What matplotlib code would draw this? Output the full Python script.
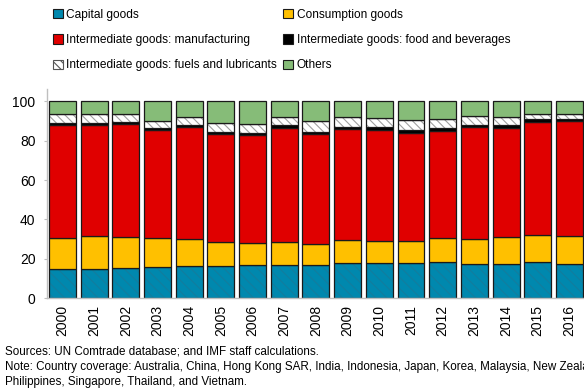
import matplotlib
matplotlib.use("Agg")
import matplotlib.pyplot as plt
import matplotlib.patches as mpatches
import numpy as np

plt.rcParams['font.family'] = ['Liberation Sans', 'DejaVu Sans']
plt.rcParams['hatch.linewidth'] = 0.8

years = [str(y) for y in range(2000, 2017)]

# shares in percent
capital = [14.7, 14.7, 15.3, 15.9, 16.4, 16.3, 16.6, 16.9, 16.6, 17.8, 17.8, 17.8, 18.3, 17.3, 17.3, 18.3, 17.5]
consumption = [15.6, 16.7, 15.5, 14.4, 13.4, 12.0, 11.4, 11.4, 10.7, 11.9, 11.2, 11.2, 12.2, 12.7, 13.5, 13.7, 14.2]
manufacturing = [57.5, 56.4, 57.5, 55.1, 57.0, 54.9, 54.9, 58.1, 55.9, 56.1, 56.3, 54.7, 54.2, 56.8, 55.6, 57.3, 58.1]
food = [1.2, 1.2, 1.0, 0.9, 1.2, 1.2, 1.0, 1.4, 1.2, 1.3, 1.5, 1.9, 1.9, 1.3, 1.6, 1.5, 1.4]
fuels = [4.6, 4.7, 4.4, 3.9, 3.9, 4.6, 4.6, 4.4, 5.4, 4.8, 4.6, 4.9, 4.6, 4.3, 4.0, 2.9, 2.5]
others = [6.4, 6.3, 6.3, 9.8, 8.1, 11.0, 11.5, 7.8, 10.2, 8.1, 8.6, 9.5, 8.8, 7.6, 8.0, 6.3, 6.3]

series = [
    ("Capital goods", capital, "#0088AE", "\\\\\\", "#137D9E"),
    ("Consumption goods", consumption, "#FFC000", None, None),
    ("Intermediate goods: manufacturing", manufacturing, "#E00000", None, None),
    ("Intermediate goods: food and beverages", food, "#000000", None, None),
    ("Intermediate goods: fuels and lubricants", fuels, "#FFFFFF", "\\\\\\\\", "#A0A0A0"),
    ("Others", others, "#86BC78", None, None),
]

fig = plt.figure(figsize=(5.84, 3.92), dpi=100)
ax = fig.add_axes([46.5 / 584, 94 / 392, 1 - 46.5 / 584, 209 / 392])

x = np.arange(len(years))
w = 0.85
bottom = np.zeros(len(years))
handles = {}
for name, vals, color, hatch, hcol in series:
    vals = np.array(vals)
    if hatch:
        ax.bar(x, vals, w, bottom=bottom, color=color, hatch=hatch,
               edgecolor=hcol, linewidth=0)
    else:
        ax.bar(x, vals, w, bottom=bottom, color=color, linewidth=0)
    ax.bar(x, vals, w, bottom=bottom, facecolor="none", edgecolor="#1A1A1A", linewidth=0.9)
    bottom += vals
    if name.startswith("Intermediate goods: fuels"):
        handles[name] = mpatches.Patch(facecolor=color, hatch=hatch, edgecolor="#555555", linewidth=0.8)
    else:
        handles[name] = mpatches.Patch(facecolor=color, edgecolor="#1A1A1A", linewidth=0.8)

ax.set_xlim(-0.505, 16.46)
ax.set_ylim(0, 106.3)
ax.set_yticks(range(0, 101, 20))
ax.set_xticks(x)
ax.set_xticklabels(years, rotation=90, fontsize=10)
ax.tick_params(axis='y', labelsize=10, length=2, color="#BFBFBF", pad=6)
ax.tick_params(axis='x', length=0, pad=5)
for s in ["top", "right"]:
    ax.spines[s].set_visible(False)
for s in ["left", "bottom"]:
    ax.spines[s].set_color("#BFBFBF")
    ax.spines[s].set_linewidth(1.0)

order = ["Capital goods", "Intermediate goods: manufacturing", "Intermediate goods: fuels and lubricants",
         "Consumption goods", "Intermediate goods: food and beverages", "Others"]
fig.legend([handles[n] for n in order], order, ncol=2, loc="upper left",
           bbox_to_anchor=(53 / 584, 1 - 9 / 392), frameon=False, fontsize=8.6,
           handlelength=0.8, handleheight=0.8, handletextpad=0.3,
           columnspacing=0.55, labelspacing=1.1, borderpad=0, borderaxespad=0)

fig.text(5 / 584, 1 - 352 / 392, "Sources: UN Comtrade database; and IMF staff calculations.",
         fontsize=8.4, va="center", ha="left")
fig.text(5 / 584, 1 - 367 / 392,
         "Note: Country coverage: Australia, China, Hong Kong SAR, India, Indonesia, Japan, Korea, Malaysia, New Zealand,",
         fontsize=8.4, va="center", ha="left")
fig.text(5 / 584, 1 - 382 / 392, "Philippines, Singapore, Thailand, and Vietnam.",
         fontsize=8.4, va="center", ha="left")

fig.savefig("out.png", dpi=100)
